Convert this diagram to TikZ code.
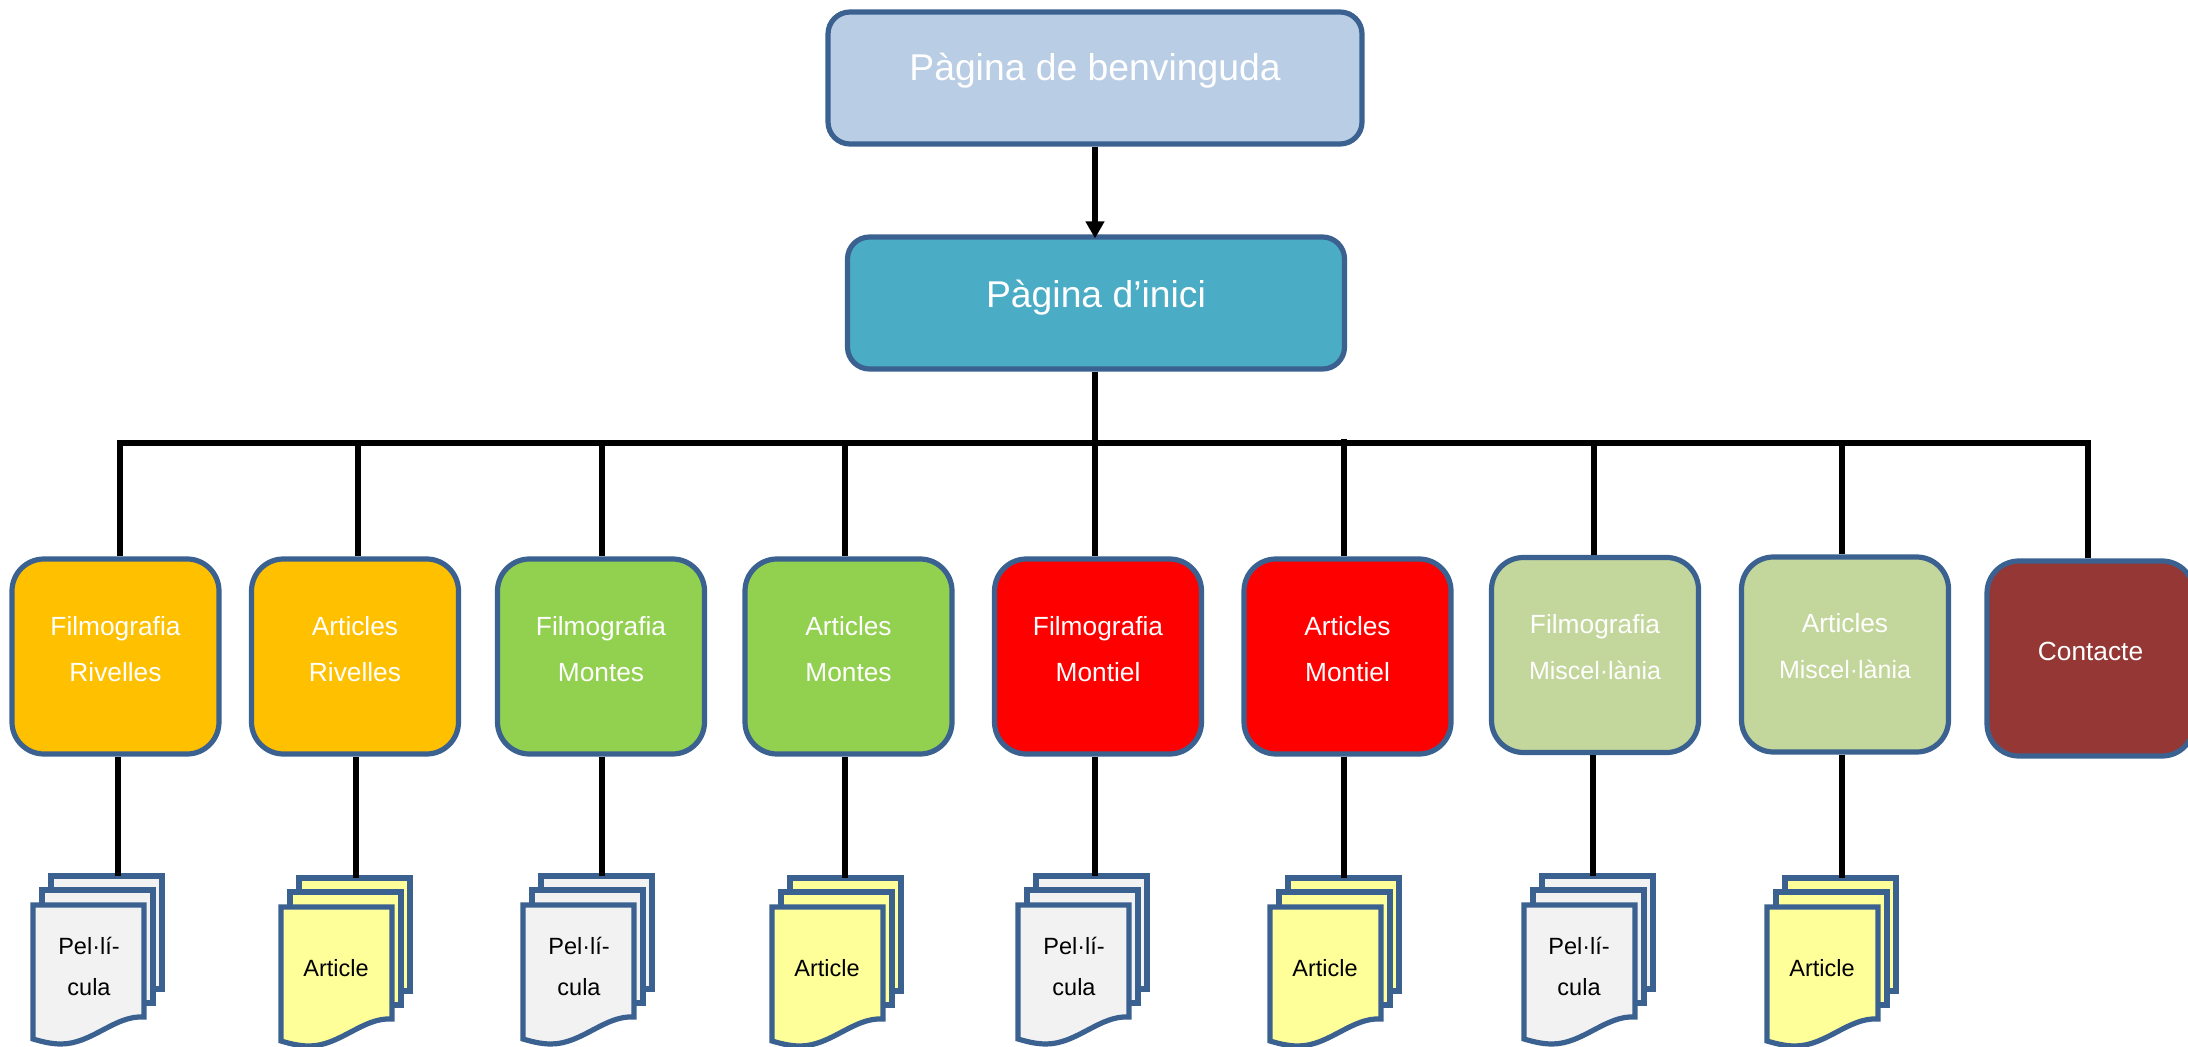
\documentclass[tikz,border=0pt]{standalone}
\usepackage{fontspec}
\setmainfont{Liberation Sans}
\usetikzlibrary{arrows.meta}
\definecolor{edgeblue}{HTML}{3B6190}
\definecolor{cwelcome}{HTML}{B9CDE5}
\definecolor{cinici}{HTML}{4BACC6}
\definecolor{corange}{HTML}{FFC000}
\definecolor{cgreen}{HTML}{92D050}
\definecolor{cred}{HTML}{FF0000}
\definecolor{colive}{HTML}{C3D69B}
\definecolor{cbrown}{HTML}{953735}
\definecolor{cgray}{HTML}{F2F2F2}
\definecolor{cyell}{HTML}{FFFF99}
% stacked lines whose baseline is that of the last line
\newcommand{\twolines}[3]{\vbox{\baselineskip=#1\halign{\hfil##\hfil\cr #2\cr #3\cr}}}
% zero-height text, raised by #1 from the node centre
\newcommand{\shifted}[2]{\smash{\raisebox{#1}{#2}}}
\newcommand{\miscname}{{\fontsize{12.5}{23}\selectfont Miscel·lània}}
\newcommand{\pelt}{\twolines{20.5pt}{Pel·lí-}{cula}}
\newcommand{\artt}{Article}
\tikzset{
  pagebox/.style={draw=edgeblue,line width=2.6pt,rounded corners=11pt,minimum width=#1,minimum height=66pt,inner sep=0pt,text=white,font=\fontsize{18.65}{22}\selectfont},
  sectionbox/.style={draw=edgeblue,line width=2.6pt,rounded corners=16pt,minimum width=103.5pt,minimum height=97.5pt,inner sep=0pt,text=white,font=\fontsize{13.15}{23}\selectfont},
  sheet/.style={draw=edgeblue,line width=2.6pt,line join=miter},
  backsheet/.style={sheet,anchor=north west,minimum width=55.5pt,minimum height=56.5pt,inner sep=0pt,outer sep=0pt},
  doctext/.style={anchor=base,inner sep=0pt,text=black,font=\fontsize{11.75}{20.5}\selectfont},
  conn/.style={draw=black,line width=2.7pt,line cap=rect}
}
\begin{document}
\begin{tikzpicture}[x=0.5pt,y=-0.5pt]
\useasboundingbox (0,0) rectangle (2188,1047);
\fill[white] (0,0) rectangle (2188,1047);

\node[pagebox=267pt,fill=cwelcome] (welcome) at (1095,78) {\shifted{-1.5pt}{Pàgina de benvinguda}};
\node[pagebox=248.5pt,fill=cinici] (inici) at (1096,303) {\shifted{-2.2pt}{Pàgina d’inici}};

\foreach \n/\tx/\ty in {1/120/443,2/358/443,3/602/443,4/845/443,5/1095/443,6/1344/439,7/1594/443,8/1842/443,9/2088/443}{
  \coordinate (u\n) at (\tx,\ty);
}

\node[sectionbox,fill=corange] (b1) at (115.5,656.5) {\shifted{-12.25pt}{\twolines{23pt}{Filmografia}{Rivelles}}};
\node[sectionbox,fill=corange] (b2) at (355,656.5) {\shifted{-12.25pt}{\twolines{23pt}{Articles}{Rivelles}}};
\node[sectionbox,fill=cgreen] (b3) at (601,656.5) {\shifted{-12.25pt}{\twolines{23pt}{Filmografia}{Montes}}};
\node[sectionbox,fill=cgreen] (b4) at (848.5,656.5) {\shifted{-12.25pt}{\twolines{23pt}{Articles}{Montes}}};
\node[sectionbox,fill=cred] (b5) at (1098,656.5) {\shifted{-12.25pt}{\twolines{23pt}{Filmografia}{Montiel}}};
\node[sectionbox,fill=cred] (b6) at (1347.5,656.5) {\shifted{-12.25pt}{\twolines{23pt}{Articles}{Montiel}}};
\node[sectionbox,fill=colive] (b7) at (1595,655) {\shifted{-12pt}{\twolines{23pt}{Filmografia}{\miscname}}};
\node[sectionbox,fill=colive] (b8) at (1845,654.5) {\shifted{-12pt}{\twolines{23pt}{Articles}{\miscname}}};
\node[sectionbox,fill=cbrown] (b9) at (2090.5,658.5) {\shifted{-1pt}{Contacte}};

\foreach \n/\lx/\ty/\fillc/\txt/\dx/\base in {
  1/33/905/cgray/\pelt/56/90,
  2/281/907/cyell/\artt/55/69,
  3/523/905/cgray/\pelt/56/90,
  4/772/907/cyell/\artt/55/69,
  5/1018/905/cgray/\pelt/56/90,
  6/1270/907/cyell/\artt/55/69,
  7/1524/905/cgray/\pelt/55/90,
  8/1767/907/cyell/\artt/55/69}{
  \begin{scope}[shift={(\lx,\ty)}]
    \node[backsheet,fill=\fillc] (s\n) at (18,-29) {};
    \node[backsheet,fill=\fillc] (m\n) at (9,-15) {};
    \draw[sheet,fill=\fillc] (0,0) -- (111,0) -- (111,112)
      .. controls (82,110) and (59,139) .. (28,139)
      .. controls (17,139) and (7,136) .. (0,134) -- cycle;
    \node[doctext] (d\n) at (\dx,\base) {\txt};
  \end{scope}
}

\draw[conn,-{Triangle[length=8.5pt,width=9pt]},line cap=butt,shorten >=-2pt] (welcome.south) -- (welcome.south |- inici.north);
\draw[conn,line cap=butt] (inici.south -| u5) -- (u5);
\draw[conn] (u1 |- u5) -- (u9 |- u5);
\foreach \n in {1,...,9}{
  \draw[conn,line cap=butt] (u\n) -- (u\n |- b\n.north);
}
\foreach \n/\dnx in {1/118,2/356,3/602,4/845,5/1095,6/1344,7/1593,8/1842}{
  \coordinate (v\n) at (\dnx,880);
  \draw[conn,line cap=butt] (v\n |- b\n.south) -- (v\n |- s\n.north);
}
\end{tikzpicture}
\end{document}
